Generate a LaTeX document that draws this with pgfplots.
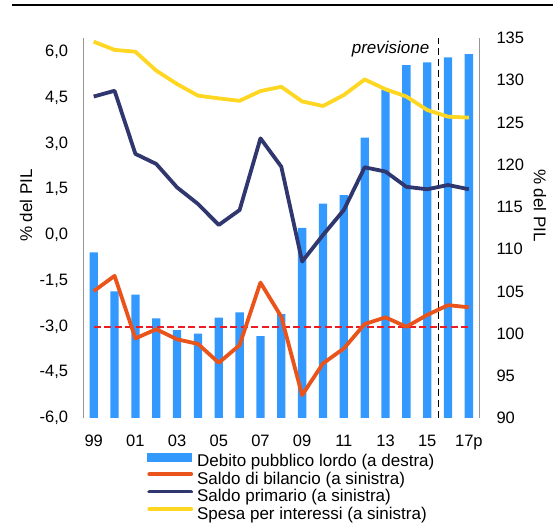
\documentclass[border=0pt]{standalone}
\usepackage{pgfplots}
\usepackage{pgfplotstable}
\pgfplotsset{compat=1.18}
\usepackage{fontspec}
\setmainfont{Liberation Sans}
\definecolor{debt}{RGB}{51,153,255}
\definecolor{saldo}{RGB}{234,84,26}
\definecolor{primario}{RGB}{48,54,110}
\definecolor{spesa}{RGB}{255,214,34}
\definecolor{axisgray}{RGB}{150,150,150}
\definecolor{refred}{RGB}{237,28,36}

\pgfplotstableread{
i debt bil prim int
0 109.6 -1.84 4.54 6.34
1 105.0 -1.34 4.73 6.07
2 104.6 -3.39 2.66 6.01
3 101.8 -3.09 2.33 5.39
4 100.4 -3.42 1.56 4.95
5 100.0 -3.57 1.02 4.57
6 101.9 -4.19 0.33 4.48
7 102.5 -3.61 0.82 4.40
8 99.7 -1.56 3.17 4.72
9 102.3 -2.68 2.24 4.86
10 112.5 -5.25 -0.87 4.38
11 115.4 -4.21 0.00 4.23
12 116.4 -3.72 0.82 4.59
13 123.2 -2.92 2.22 5.10
14 128.9 -2.70 2.08 4.78
15 131.8 -3.01 1.58 4.54
16 132.1 -2.62 1.50 4.10
17 132.7 -2.30 1.64 3.88
18 133.1 -2.37 1.50 3.85
}\datatable

\begin{document}
\begin{tikzpicture}[x=1pt,y=1pt]
\pgfplotsset{
 common/.style={
  at={(83.3pt,106pt)}, anchor=south west, scale only axis,
  width=396pt, height=380pt,
  xmin=-0.5, xmax=18.5,
  axis line style={draw=none}, tick style={draw=none}, major tick length=0pt,
  /pgf/number format/assume math mode=true,
  tick label style={font=\fontsize{16.5}{19}\selectfont},
 }
}
\begin{axis}[common, ymin=90, ymax=135, ytick={90,95,...,135},
  yticklabel pos=right,
  yticklabel style={anchor=west, inner sep=0pt, xshift=17pt},
  xtick=\empty]
\addplot[ybar, bar width=8.3pt, fill=debt, draw=none] table[x=i,y=debt]{\datatable};
\end{axis}
\begin{axis}[common, ymin=-6, ymax=6.46,
  ytick={-6,-4.5,-3,-1.5,0,1.5,3,4.5,6},
  yticklabel style={anchor=east, inner sep=0pt, xshift=-15pt,
    /pgf/number format/.cd, fixed, fixed zerofill, precision=1, use comma},
  xtick={0,2,...,18}, xticklabels={99,01,03,05,07,09,11,13,15,17p},
  xticklabel style={anchor=north, inner sep=0pt, yshift=-17pt},
  clip=false,
  legend cell align=left,
  legend image code/.code={\draw[#1, line cap=round] (2pt,6pt) -- (44pt,6pt);},
  legend style={at={(0.161,-0.091)}, anchor=north west, draw=none, fill=none,
    inner sep=0pt, outer sep=0pt, font=\fontsize{17}{18}\selectfont,
    /tikz/row sep=0pt, /tikz/column sep=4pt,
    nodes={inner sep=0pt, text height=12.8pt, text depth=4.6pt}},
  ]
\addlegendimage{legend image code/.code={\fill[debt] (0pt,2pt) rectangle (44pt,10pt);}}
\addlegendentry{Debito pubblico lordo (a destra)}
\addplot[forget plot, refred, line width=2pt, dash pattern=on 7pt off 3.5pt] coordinates {(0,-3) (18,-3)};
\addplot[forget plot, black, line width=1.4pt, dash pattern=on 7pt off 4pt] coordinates {(16.55,-6) (16.55,6.46)};
\addplot[saldo, line width=3.8pt, line join=round] table[x=i,y=bil]{\datatable};
\addlegendentry{Saldo di bilancio (a sinistra)}
\addplot[primario, line width=3.8pt, line join=round] table[x=i,y=prim]{\datatable};
\addlegendentry{Saldo primario (a sinistra)}
\addplot[spesa, line width=3.8pt, line join=round] table[x=i,y=int]{\datatable};
\addlegendentry{Spesa per interessi (a sinistra)}
\node[anchor=east, inner sep=0pt, font=\itshape\fontsize{17}{20}\selectfont] at (axis cs:16.11,6.08) {previsione};
\draw[axisgray, line width=1pt] (rel axis cs:0,0) -- (rel axis cs:0,1);
\draw[axisgray, line width=1pt] (rel axis cs:1,0) -- (rel axis cs:1,1);
\end{axis}
\node[rotate=90, font=\fontsize{17}{20}\selectfont] at (26,318.5) {\% del PIL};
\node[rotate=-90, font=\fontsize{17}{20}\selectfont] at (540,318.5) {\% del PIL};
\draw[black, line width=2pt] (12,519) -- (553,519);
\pgfresetboundingbox
\path[use as bounding box] (0,0) rectangle (553,524);
\end{tikzpicture}
\end{document}
